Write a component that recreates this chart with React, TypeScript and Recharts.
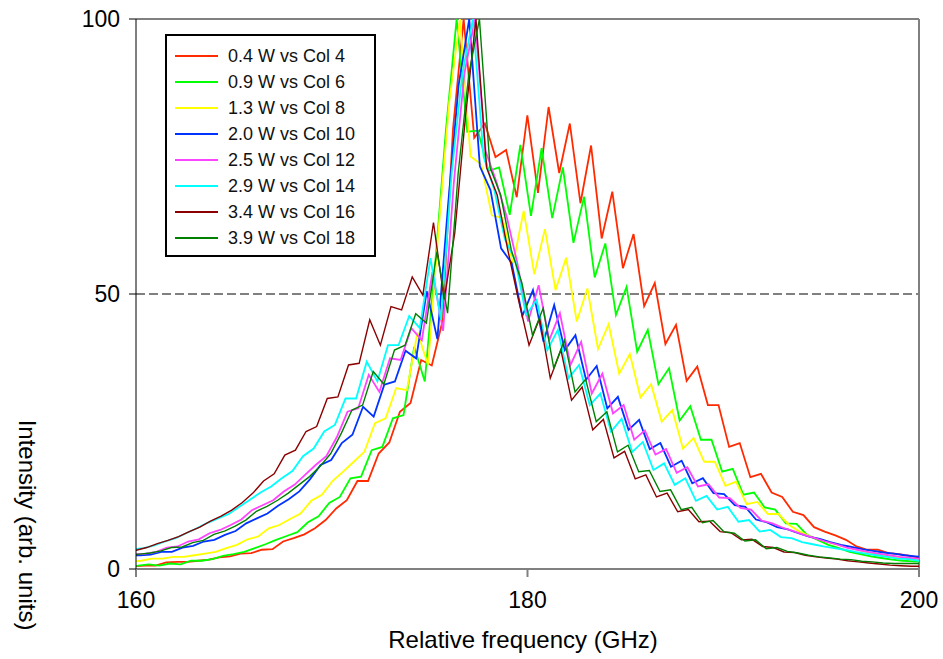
import React from 'react';
import { LineChart, Line, XAxis, YAxis, ReferenceLine, Label } from 'recharts';

// sample spacing of every trace (GHz) and where each trace starts
const FREQ_STEP = 0.5425;
const startFreq = [158.835, 158.478, 158.646, 159.121, 159.413, 159.31, 159.464, 159.642];

const seriesNames = [
  '0.4 W vs Col 4',
  '0.9 W vs Col 6',
  '1.3 W vs Col 8',
  '2.0 W vs Col 10',
  '2.5 W vs Col 12',
  '2.9 W vs Col 14',
  '3.4 W vs Col 16',
  '3.9 W vs Col 18',
];
const seriesColors = ['#ff2a00', '#00ff00', '#ffff00', '#0033ff', '#ff44ff', '#00ffff', '#8b0000', '#008000'];

const col4 = [
  0.5, 0.5, 0.5, 0.6, 0.6, 1.2, 1.3, 1.3, 1.5, 1.7, 2.1, 2.3, 2.8, 2.9, 3.5, 3.6, 5.0, 5.6, 6.3, 7.4,
  8.9, 11, 12.5, 16, 16, 21, 23, 28.6, 30.2, 38, 37, 45, 80, 100, 78.4, 81, 74.9, 76.2, 67.6, 82.5,
  68.4, 84, 72, 81, 66.5, 77, 60.1, 68.6, 54.7, 60.9, 47.8, 52, 40.9, 44.4, 34.2, 36.8, 29.8, 29.8, 22.2, 22.9,
  16.7, 17.3, 13.9, 13.1, 10.4, 9.8, 7.6, 6.8, 6.1, 5.3, 4.1, 3.5, 3.5, 2.9, 2.7, 2.4, 2.0, 1.9,
];
const col6 = [
  0.5, 0.5, 0.5, 0.6, 0.85, 0.6, 1.0, 0.85, 1.5, 1.5, 1.8, 2.4, 2.7, 3.1, 3.8, 4.5, 5.3, 6.0, 6.7, 8.5,
  9.6, 12, 13.1, 16.5, 16.8, 21.6, 22.2, 27.4, 28, 40.4, 34.1, 56, 80, 100, 79.5, 79.7, 72.4, 73, 64.4, 77.1,
  64.2, 76.5, 63.8, 73, 59.3, 67.7, 53, 59.2, 46.2, 51.3, 39.5, 43.5, 33.6, 36.5, 27, 29.6, 23.5, 23.5, 17.7, 18.2,
  13.5, 13.9, 11.2, 10.8, 8.3, 8.2, 6.2, 5.3, 4.4, 3.8, 3.1, 2.7, 2.3, 2.0, 1.7, 1.5, 1.4, 1.3,
];
const col8 = [
  1.4, 1.4, 1.4, 1.5, 1.9, 1.9, 2.2, 2.2, 2.5, 2.8, 3.1, 3.8, 4.4, 5.4, 5.9, 7.4, 8.0, 9.1, 10.1, 12.4,
  13.5, 16, 17.7, 19.5, 21.3, 26.5, 27.4, 32.9, 32.5, 43, 37.1, 62, 85, 100, 75, 73.6, 64.3, 63.8, 55.4, 65.1,
  53.6, 61.8, 50.7, 56.6, 45, 51, 40, 44.5, 35.5, 39.1, 31.2, 33.6, 26.8, 28.9, 21.9, 23.8, 19.5, 19.5, 15.1, 15.9,
  11.8, 12.2, 10, 10, 8, 6.8, 5.9, 5.3, 4.7, 4.2, 3.7, 3.2, 2.8, 2.5, 2.2, 1.9, 1.6, 1.4,
];
const col10 = [
  2.4, 2.4, 2.5, 2.6, 3.1, 3.1, 3.9, 4.2, 5.0, 5.3, 6.2, 6.9, 8.3, 9.2, 10.1, 11.5, 12.7, 14.1, 16.3, 18.9,
  19.8, 22.9, 24.4, 29.5, 27.7, 33.5, 34.1, 39.7, 38.3, 50.5, 41.8, 66, 88, 100, 73.2, 68.9, 58.3, 55.6, 46, 50.7,
  41.3, 48, 39.8, 42.5, 34.4, 36.9, 29.2, 31.3, 25.3, 27.1, 21.8, 22.9, 18.6, 19.7, 15.6, 16.5, 13.8, 13.6, 11.6, 11.3,
  9, 8.5, 7.6, 7.2, 6.5, 5.9, 5.5, 4.9, 4.4, 4.0, 3.6, 3.3, 3.0, 2.8, 2.5, 2.3, 2.1, 1.9,
];
const col12 = [
  2.6, 2.7, 2.8, 3.1, 3.9, 4.1, 5, 5.4, 6.5, 7.1, 8, 9, 10.7, 11.6, 12.5, 14.1, 15.3, 17.1, 18.9, 20.5,
  24, 28.6, 29.2, 35.3, 32.2, 38.3, 38, 43.8, 41.6, 54, 43.3, 70, 90, 100, 76, 70.5, 64, 55.5, 45, 51.6,
  41.6, 46.5, 37.1, 41.3, 31.9, 35.5, 28.3, 29.8, 23.5, 25.2, 20.8, 21.8, 17.5, 18.5, 15, 15.4, 13, 12.9, 11.1, 10.8,
  8.8, 8.3, 7.5, 6.9, 6.2, 5.6, 5.0, 4.5, 3.9, 3.5, 3.1, 2.8, 2.5, 2.2, 2.0, 1.8, 1.7, 1.6,
];
const col14 = [
  3.5, 3.6, 3.8, 4.3, 5, 5.6, 6.5, 7.4, 8.4, 9.2, 10, 11.3, 12.6, 13.9, 15, 16.5, 17.8, 20.5, 21.9, 25,
  26.2, 31, 31, 37.7, 34.1, 40.7, 40.7, 46, 43.8, 56.5, 45.3, 72, 90, 100, 75, 69, 60, 56, 46.2, 48.9,
  39.8, 43.5, 34.7, 37.1, 29.8, 31.9, 25, 27.3, 21.3, 23.1, 18, 19.2, 15.3, 16.5, 12.4, 13.3, 10.8, 11.3, 8.6, 8.9,
  6.8, 7.1, 5.8, 5.6, 4.9, 4.5, 4.1, 3.8, 3.5, 3.1, 2.8, 2.5, 2.2, 1.9, 1.8, 1.5, 1.4, 1.3,
];
const col16 = [
  3.0, 3.4, 3.9, 4.6, 5.2, 5.9, 6.8, 7.6, 8.7, 9.6, 10.7, 12.1, 13.8, 16, 17.3, 20.7, 21.6, 25, 25.9, 31,
  31.3, 37.1, 37.4, 45.3, 40.7, 47.7, 47.1, 53.1, 49.8, 63, 49, 61, 82, 100, 73, 68, 58, 49, 40.7, 45.6,
  34.7, 39.8, 30.7, 33.1, 25.3, 27.2, 20.2, 21.4, 16.4, 17.1, 13.1, 13.8, 10.4, 10.8, 8.6, 8.7, 6.8, 6.6, 5.3, 5.4,
  4.1, 3.9, 3.1, 3.0, 2.5, 2.2, 2.0, 1.8, 1.5, 1.3, 1.1, 0.9, 0.7, 0.6, 0.5, 0.5, 0.5, 0.5,
];
const col18 = [
  2.5, 2.7, 2.9, 3.3, 3.9, 4.0, 4.8, 5.2, 6.3, 6.9, 7.8, 8.9, 10.5, 11.4, 12.5, 13.8, 15.3, 16.8, 18.7, 21,
  24.7, 28.9, 29.8, 35.9, 33.6, 39.8, 40.7, 46.4, 44.7, 57.7, 46.5, 72, 90, 100, 73, 68, 58, 52, 42.5, 47.4,
  36.5, 41.6, 32.2, 34.5, 26.8, 28.6, 21.3, 22.5, 17.7, 17.9, 14.1, 14.4, 10.8, 11.2, 8.4, 8.8, 6.8, 6.5, 5.1, 5.3,
  3.7, 3.9, 3.2, 2.9, 2.5, 2.2, 2.0, 1.8, 1.7, 1.4, 1.3, 1.1, 1.0, 1.0, 1.0, 1.0, 0.9, 0.9,
];

const seriesValues = [col4, col6, col8, col10, col12, col14, col16, col18];
const xTicks = [160, 180, 200];
const yTicks = [0, 50, 100];

const FONT = '"Liberation Sans", Arial, sans-serif';

const seriesData = seriesValues.map((vals, k) =>
  vals.map((v, i) => ({ f: +(startFreq[k] + i * FREQ_STEP).toFixed(4), v }))
);

const LegendBox: React.FC = () => (
  <div
    style={{
      position: 'absolute',
      left: 165,
      top: 34,
      width: 207,
      height: 219,
      border: '2px solid #000',
      background: '#fff',
      fontFamily: FONT,
      fontSize: 18,
      color: '#111',
    }}
  >
    {seriesNames.map((name, k) => (
      <div
        key={name}
        style={{ position: 'absolute', left: 8, top: 8 + k * 26, height: 24, display: 'flex', alignItems: 'center' }}
      >
        <span style={{ display: 'inline-block', width: 43, height: 2, background: seriesColors[k], marginRight: 10 }} />
        <span>{name}</span>
      </div>
    ))}
  </div>
);

const App: React.FC = () => {
  return (
    <div style={{ position: 'absolute', left: 0, top: 0, width: 943, height: 659, background: '#fff' }}>
      <LineChart width={943} height={659} margin={{ top: 19, right: 24, left: 0, bottom: 0 }}>
        <XAxis
          dataKey="f"
          type="number"
          domain={[160, 200]}
          ticks={xTicks}
          allowDataOverflow
          height={90}
          stroke="#808080"
          strokeWidth={2}
          tickSize={8}
          tickMargin={15}
          tick={{ fill: '#000', fontSize: 23, fontFamily: FONT }}
        >
          <Label
            content={() => (
              <text x={523} y={648} textAnchor="middle" fontSize={24} fontFamily={FONT} fill="#000">
                Relative frequency (GHz)
              </text>
            )}
          />
        </XAxis>
        <YAxis
          type="number"
          domain={[0, 100]}
          ticks={yTicks}
          allowDataOverflow
          width={136}
          stroke="#000"
          tickSize={7}
          tickMargin={9}
          tick={{ fill: '#000', fontSize: 23, fontFamily: FONT }}
        >
          <Label
            content={() => (
              <text
                x={27}
                y={525}
                textAnchor="middle"
                dominantBaseline="central"
                transform="rotate(90 27 525)"
                fontSize={24}
                fontFamily={FONT}
                fill="#000"
              >
                Intensity (arb. units)
              </text>
            )}
          />
        </YAxis>
        <ReferenceLine y={100} stroke="#808080" strokeWidth={2} />
        <ReferenceLine x={200} stroke="#808080" strokeWidth={2} />
        <ReferenceLine y={50} stroke="#808080" strokeWidth={2} strokeDasharray="9 4" />
        {seriesData.map((d, k) => (
          <Line
            key={seriesNames[k]}
            data={d}
            dataKey="v"
            name={seriesNames[k]}
            type="linear"
            stroke={seriesColors[k]}
            strokeWidth={k === 6 || k === 7 ? 1.4 : 1.8}
            dot={false}
            activeDot={false}
            isAnimationActive={false}
          />
        ))}
      </LineChart>
      <LegendBox />
    </div>
  );
};

export default App;
